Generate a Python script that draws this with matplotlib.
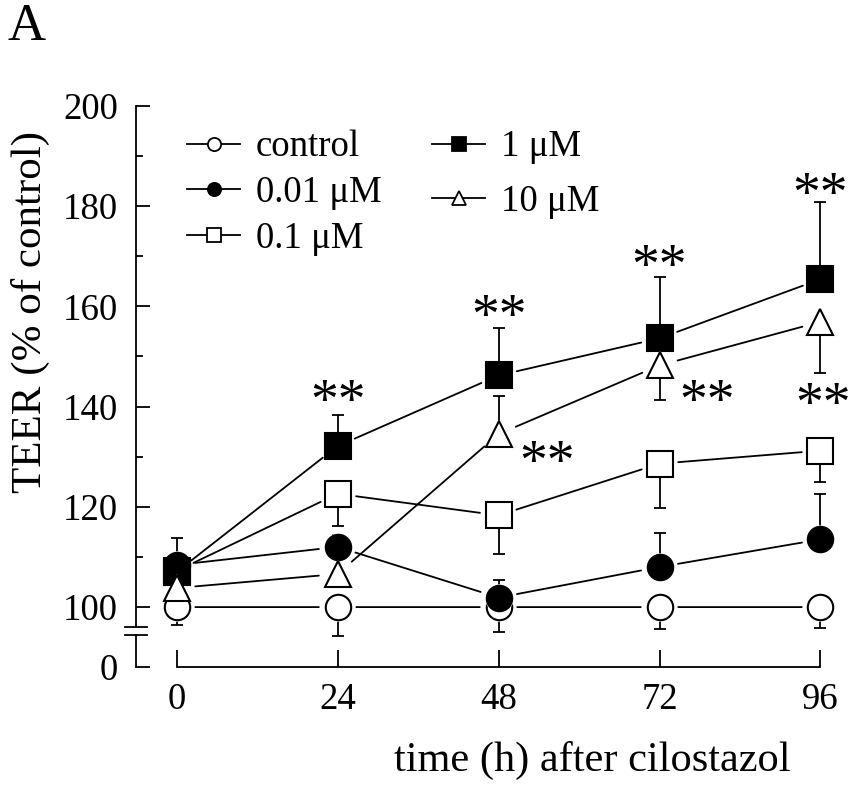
import matplotlib
matplotlib.use("Agg")
import matplotlib.pyplot as plt
from matplotlib.lines import Line2D

plt.rcParams['font.family'] = ['Liberation Serif', 'DejaVu Serif']

hours = [0, 24, 48, 72, 96]
names = ['control', '0.01 μM', '0.1 μM', '1 μM', '10 μM']

control = [100, 100, 100, 100, 100]
control_lo = [3.6, 5.8, 4.9, 4.4, 4.1]
control_hi = [0, 0, 0, 0, 0]

c001 = [108.4, 112.0, 101.9, 108.0, 113.5]
c001_lo = [0, 0, 0, 0, 0]
c001_hi = [5.3, 2.3, 3.5, 6.8, 9.0]

c01 = [107.2, 122.6, 118.3, 128.6, 131.2]
c01_lo = [0, 6.5, 7.7, 8.9, 6.2]
c01_hi = [0, 0, 0, 0, 0]

c1 = [107.0, 132.1, 146.2, 153.6, 165.4]
c1_lo = [0, 0, 0, 0, 0]
c1_hi = [0, 6.3, 9.4, 12.3, 15.3]

c10 = [103.8, 106.6, 134.5, 148.2, 156.9]
c10_lo = [0, 0, 0, 6.8, 10.2]
c10_hi = [0, 0, 7.7, 0, 0]

# where the ** marks sit (data coords, glyph centre)
star_x = [24, 48, 72, 96, 55.2, 79.1, 96.4]
star_y = [143.2, 160.2, 170.1, 184.5, 131.1, 143.2, 142.6]

series = [
    (control, control_lo, control_hi, 'o', 'white'),
    (c001, c001_lo, c001_hi, 'o', 'black'),
    (c01, c01_lo, c01_hi, 's', 'white'),
    (c1, c1_lo, c1_hi, 's', 'black'),
    (c10, c10_lo, c10_hi, '^', 'white'),
]

y_bot = 88.05
fig = plt.figure(figsize=(8.57, 7.85), dpi=100)
ax = fig.add_axes([136 / 857, 1 - 667 / 785, 714 / 857, (667 - 105.7) / 785])
ax.set_xlim(-6.05, 100.4)
ax.set_ylim(y_bot, 200)

ms = 18.3
lw = 1.3
for i, (vals, lo, hi, mk, fc) in enumerate(series):
    for j in range(len(hours) - 1):
        ax.annotate('', xy=(hours[j + 1], vals[j + 1]), xytext=(hours[j], vals[j]),
                    arrowprops=dict(arrowstyle='-', color='k', lw=lw,
                                    shrinkA=13.5, shrinkB=13.5),
                    annotation_clip=False, zorder=2)
    ax.errorbar(hours, vals, yerr=[lo, hi], fmt='none', ecolor='k',
                elinewidth=lw, capsize=4.3, capthick=lw, zorder=2, clip_on=False)
    ax.plot(hours, vals, linestyle='none', marker=mk, ms=ms + 2.2, mfc='white',
            mec='white', mew=0, zorder=3 + 2 * i, clip_on=False)
    ax.plot(hours, vals, linestyle='none', marker=mk, ms=ms, mfc=fc,
            mec='black', mew=1.5, zorder=4 + 2 * i, clip_on=False)

for sx, sy in zip(star_x, star_y):
    ax.annotate('**', xy=(sx, sy), xytext=(0, -20), textcoords='offset points',
                ha='center', va='baseline', fontsize=40, annotation_clip=False)

# axes and the break
for s in ['top', 'right', 'left']:
    ax.spines[s].set_visible(False)
ax.spines['bottom'].set_bounds(0, 96)
ax.spines['bottom'].set_linewidth(lw)
ytr = ax.get_yaxis_transform()
ax.plot([0, 0], [y_bot, 94.4], color='k', lw=lw, transform=ytr, clip_on=False)
ax.plot([0, 0], [96.0, 200], color='k', lw=lw, transform=ytr, clip_on=False)
for yb in [94.4, 96.0]:
    ax.plot([-0.0154, 0.0154], [yb, yb], color='k', lw=lw, transform=ytr, clip_on=False)

ax.set_xticks(hours)
ax.set_xticklabels([str(h) for h in hours])
ax.set_yticks([y_bot, 100, 120, 140, 160, 180, 200])
ax.set_yticklabels(['0', '100', '120', '140', '160', '180', '200'])
ax.set_yticks([110, 130, 150, 170, 190], minor=True)
ax.tick_params(axis='y', which='major', direction='in', length=10, width=lw,
               labelsize=26.5, pad=13)
ax.tick_params(axis='y', which='minor', direction='in', length=5, width=lw)
ax.tick_params(axis='x', direction='in', length=12.5, width=lw, labelsize=26.5, pad=11)

# legends
def handle(mk, fc):
    return Line2D([], [], color='k', lw=lw, marker=mk, ms=9.5, mfc=fc, mec='k', mew=1.3)

hs = [handle(mk, fc) for (_, _, _, mk, fc) in series]
leg1 = ax.legend(hs[:3], names[:3], loc='upper left', bbox_to_anchor=(187 / 857, 1 - 130 / 785),
                 bbox_transform=fig.transFigure, frameon=False, fontsize=26.5,
                 handlelength=1.45, handletextpad=0.42, labelspacing=0.3,
                 borderpad=0, borderaxespad=0)
ax.add_artist(leg1)
ax.legend(hs[3:], names[3:], loc='upper left', bbox_to_anchor=(432 / 857, 1 - 130 / 785),
          bbox_transform=fig.transFigure, frameon=False, fontsize=26.5,
          handlelength=1.45, handletextpad=0.42, labelspacing=0.55,
          borderpad=0, borderaxespad=0)

fig.text(30 / 857, 1 - 312 / 785, 'TEER (% of control)', rotation=90,
         ha='center', va='center', fontsize=31)
fig.text(592 / 857, 1 - 760 / 785, 'time (h) after cilostazol',
         ha='center', va='center', fontsize=30.5)
fig.text(8 / 857, 1 - 40 / 785, 'A', ha='left', va='baseline', fontsize=38)

fig.savefig('out.png', dpi=100)
